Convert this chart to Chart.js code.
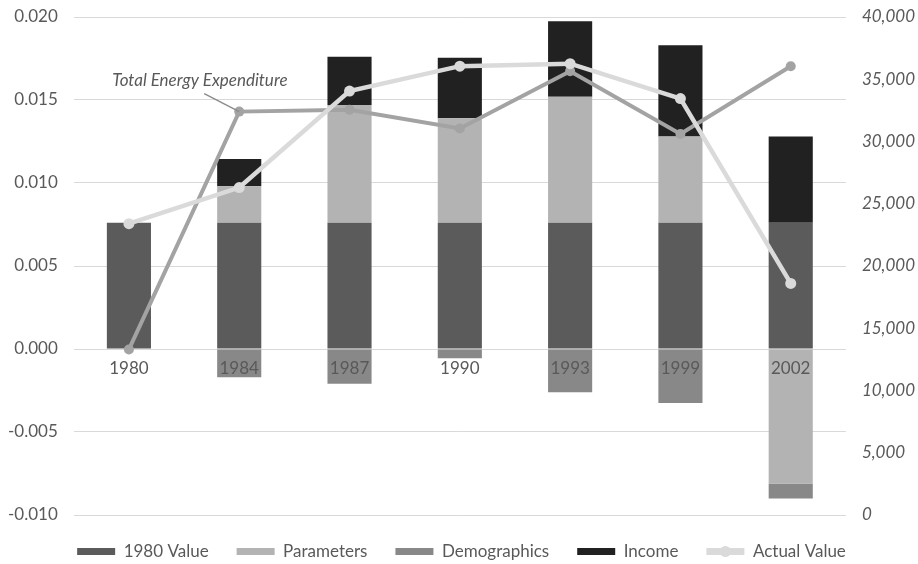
<!DOCTYPE html>
<html>
<head>
<meta charset="utf-8">
<script src="https://cdn.jsdelivr.net/npm/chart.js@4/dist/chart.umd.min.js"></script>
<style>
  html, body { margin: 0; padding: 0; background: #ffffff; }
  #wrap { width: 918px; height: 564px; position: relative; }
</style>
</head>
<body>
<div id="wrap"><canvas id="chart" width="918" height="564"></canvas></div>
<script>
// Survey years
const categories = ['1980', '1984', '1987', '1990', '1993', '1999', '2002'];

// Decomposition components (left axis)
const value1980    = [0.0076, 0.0076, 0.0076, 0.0076, 0.0076, 0.0076, 0.0076];
const parameters   = [0, 0.0022, 0.0071, 0.0063, 0.0076, 0.0052, -0.0081];
const demographics = [0, -0.0017, -0.0021, -0.00055, -0.0026, -0.00325, -0.0009];
const income       = [0, 0.00165, 0.0029, 0.00365, 0.00455, 0.0055, 0.0052];

// Levels (right axis)
const actualValue      = [23400, 26300, 34050, 36050, 36250, 33450, 18600];
const totalExpenditure = [13300, 32400, 32550, 31050, 35650, 30600, 36050];

// Tick settings
const leftTicks  = { min: -0.010, max: 0.020, step: 0.005 };
const rightTicks = { min: 0, max: 40000, step: 5000 };

const FONT = 'Lato';
const TEXT = '#595959';
const GRID = '#d9d9d9';
const TICK_PAD = 16;

const C1980 = '#5b5b5b';
const CPARAM = '#b3b3b3';
const CDEMO = '#888888';
const CINC = '#212121';
const CACTUAL = '#dadada';
const CTOTAL = '#a3a3a3';

// Vertical axes: keep labels TICK_PAD away from the plot, without the doubled gap
const tightY = s => {
  s.width -= TICK_PAD;
  s.paddingTop = 0;
  s.paddingBottom = 0;
};

// Callout label for the expenditure series + line marker in the legend
const extras = {
  id: 'extras',
  afterDatasetsDraw(chart) {
    const ctx = chart.ctx;
    const meta = chart.getDatasetMeta(5);
    const pt = meta.data[1];
    if (!pt) return;
    ctx.save();
    ctx.strokeStyle = '#8c8c8c';
    ctx.lineWidth = 1.5;
    ctx.beginPath();
    ctx.moveTo(pt.x - 35, pt.y - 18);
    ctx.lineTo(pt.x, pt.y);
    ctx.stroke();
    ctx.fillStyle = TEXT;
    ctx.font = 'italic 17px ' + FONT;
    ctx.textAlign = 'left';
    ctx.textBaseline = 'alphabetic';
    ctx.fillText('Total Energy Expenditure', pt.x - 127, pt.y - 26);
    ctx.restore();
  },
  afterDraw(chart) {
    const lg = chart.legend;
    if (!lg || !lg.legendItems) return;
    const idx = lg.legendItems.findIndex(it => it.text === 'Actual Value');
    if (idx < 0) return;
    const hb = lg.legendHitBoxes[idx];
    const bw = lg.options.labels.boxWidth;
    const ctx = chart.ctx;
    ctx.save();
    ctx.fillStyle = CACTUAL;
    ctx.beginPath();
    ctx.arc(hb.left + bw / 2, hb.top + hb.height / 2, 5.5, 0, Math.PI * 2);
    ctx.fill();
    ctx.restore();
  }
};

new Chart(document.getElementById('chart'), {
  data: {
    labels: categories,
    datasets: [
      { type: 'bar', label: '1980 Value', data: value1980, backgroundColor: C1980, yAxisID: 'y', order: 2 },
      { type: 'bar', label: 'Parameters', data: parameters, backgroundColor: CPARAM, yAxisID: 'y', order: 3 },
      { type: 'bar', label: 'Demographics', data: demographics, backgroundColor: CDEMO, yAxisID: 'y', order: 4 },
      { type: 'bar', label: 'Income', data: income, backgroundColor: CINC, yAxisID: 'y', order: 5 },
      { type: 'line', label: 'Actual Value', data: actualValue, yAxisID: 'y1', order: 0,
        borderColor: CACTUAL, backgroundColor: CACTUAL, borderWidth: 4.5,
        pointRadius: 5.5, pointBackgroundColor: CACTUAL, pointBorderWidth: 0, tension: 0 },
      { type: 'line', label: 'Total Energy Expenditure', data: totalExpenditure, yAxisID: 'y1', order: 1,
        borderColor: CTOTAL, backgroundColor: CTOTAL, borderWidth: 4,
        pointRadius: 5, pointBackgroundColor: CTOTAL, pointBorderWidth: 0, tension: 0 }
    ]
  },
  options: {
    responsive: false,
    animation: false,
    layout: { padding: { left: 8, right: 3, top: 17, bottom: -6 } },
    datasets: {
      bar: { categoryPercentage: 0.8, barPercentage: 0.5 }
    },
    scales: {
      x: {
        stacked: true,
        position: { y: 0 },
        grid: { display: false, drawTicks: false },
        border: { display: false },
        ticks: { z: 1, color: TEXT, font: { family: FONT, size: 17 }, padding: 9, maxRotation: 0 },
        afterFit: s => { s.paddingLeft = 0; s.paddingRight = 0; s.paddingTop = 0; s.paddingBottom = 0; }
      },
      y: {
        stacked: true,
        position: 'left',
        min: leftTicks.min,
        max: leftTicks.max,
        grid: { color: GRID, lineWidth: 1, drawTicks: false },
        border: { display: false },
        afterFit: tightY,
        ticks: {
          stepSize: leftTicks.step,
          padding: TICK_PAD,
          color: TEXT,
          font: { family: FONT, size: 17 },
          callback: v => Number(v).toFixed(3)
        }
      },
      y1: {
        stacked: false,
        position: 'right',
        min: rightTicks.min,
        max: rightTicks.max,
        grid: { display: false, drawTicks: false },
        border: { display: false },
        afterFit: tightY,
        ticks: {
          stepSize: rightTicks.step,
          padding: TICK_PAD,
          color: TEXT,
          font: { family: FONT, size: 17, style: 'italic' },
          callback: v => Number(v).toLocaleString('en-US')
        }
      }
    },
    plugins: {
      tooltip: { enabled: false },
      legend: {
        position: 'bottom',
        labels: {
          boxWidth: 38,
          boxHeight: 7,
          padding: 28,
          color: TEXT,
          font: { family: FONT, size: 17 },
          filter: item => item.text !== 'Total Energy Expenditure',
          sort: (a, b) => a.datasetIndex - b.datasetIndex,
          generateLabels: chart => {
            const items = Chart.defaults.plugins.legend.labels.generateLabels(chart);
            items.forEach(it => { it.lineWidth = 0; it.strokeStyle = 'rgba(0,0,0,0)'; });
            return items;
          }
        }
      }
    }
  },
  plugins: [extras]
});
</script>
</body>
</html>
